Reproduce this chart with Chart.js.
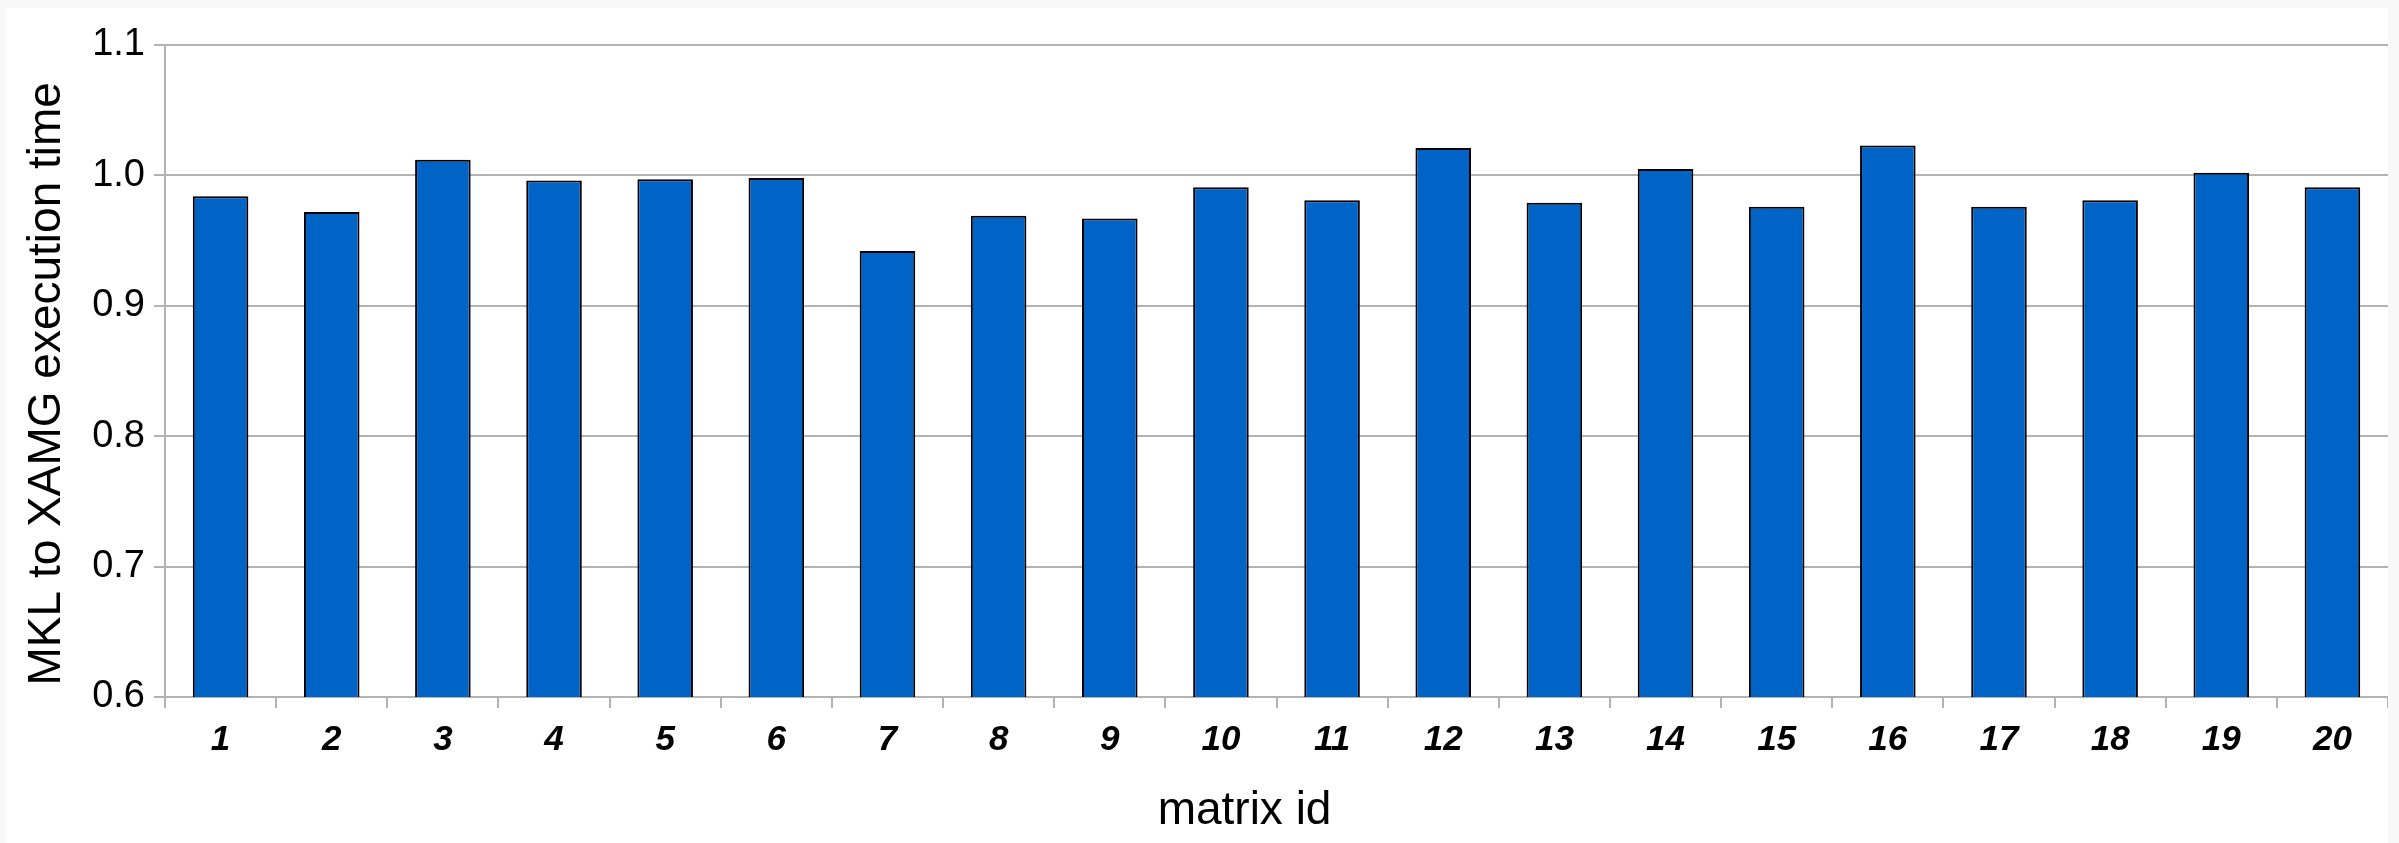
<!DOCTYPE html>
<html>
<head>
<meta charset="utf-8">
<script src="https://cdn.jsdelivr.net/npm/chart.js@4.4.1/dist/chart.umd.min.js"></script>
<style>
  html, body { margin: 0; padding: 0; background: #f8f8f8; width: 2399px; height: 843px; overflow: hidden; }
  #wrap { position: absolute; left: 6px; top: 8px; width: 2382px; height: 835px; background: #ffffff; }
  canvas { display: block; }
</style>
</head>
<body>
<div id="wrap"><canvas id="c" width="2382" height="835"></canvas></div>
<script>
const categories = ['1','2','3','4','5','6','7','8','9','10','11','12','13','14','15','16','17','18','19','20'];
const ratioValues = [0.984, 0.972, 1.012, 0.996, 0.997, 0.998, 0.942, 0.969, 0.967, 0.991,
                     0.981, 1.021, 0.979, 1.005, 0.976, 1.023, 0.976, 0.981, 1.002, 0.991];
const yMin = 0.6;
const yMax = 1.1;
const yStep = 0.1;
const yTitle = 'MKL to XAMG execution time';
const xTitle = 'matrix id';

const FONT = '"Liberation Sans", Arial, sans-serif';
const GRID = '#b3b3b3';

new Chart(document.getElementById('c'), {
  type: 'bar',
  data: {
    labels: categories,
    datasets: [{
      data: ratioValues,
      backgroundColor: '#0063c6',
      borderColor: '#000000',
      borderWidth: 2,
      barPercentage: 0.5,
      categoryPercentage: 1.0
    }]
  },
  options: {
    responsive: false,
    animation: false,
    devicePixelRatio: 1,
    layout: { padding: { top: 37, right: 0, left: 0, bottom: 0 } },
    plugins: { legend: { display: false }, tooltip: { enabled: false } },
    scales: {
      x: {
        offset: true,
        grid: { display: true, drawOnChartArea: false, drawTicks: true, tickLength: 11, offset: true, color: GRID, lineWidth: 2 },
        border: { display: true, color: GRID, width: 2 },
        ticks: { color: '#000', padding: 11, maxRotation: 0, autoSkip: false,
                 font: { family: FONT, size: 35, weight: 'bold', style: 'italic', lineHeight: 1.2 } },
        title: { display: true, text: xTitle + '     ', color: '#000',
                 font: { family: FONT, size: 46, lineHeight: 1.2 }, padding: { top: 0, bottom: 4 } },
        afterFit: (s) => { s.height = 146; }
      },
      y: {
        min: yMin, max: yMax,
        grid: { display: true, drawTicks: true, tickLength: 11, color: GRID, lineWidth: 2 },
        border: { display: true, color: GRID, width: 2 },
        ticks: { stepSize: yStep, color: '#000', padding: 9,
                 font: { family: FONT, size: 38, lineHeight: 1.2 },
                 callback: (v) => Number(v).toFixed(1) },
        title: { display: true, text: yTitle + '  ', color: '#000',
                 font: { family: FONT, size: 46, lineHeight: 1.2 }, padding: { top: 14, bottom: 0 } },
        afterFit: (s) => { s.width = 159; }
      }
    }
  }
});
</script>
</body>
</html>
